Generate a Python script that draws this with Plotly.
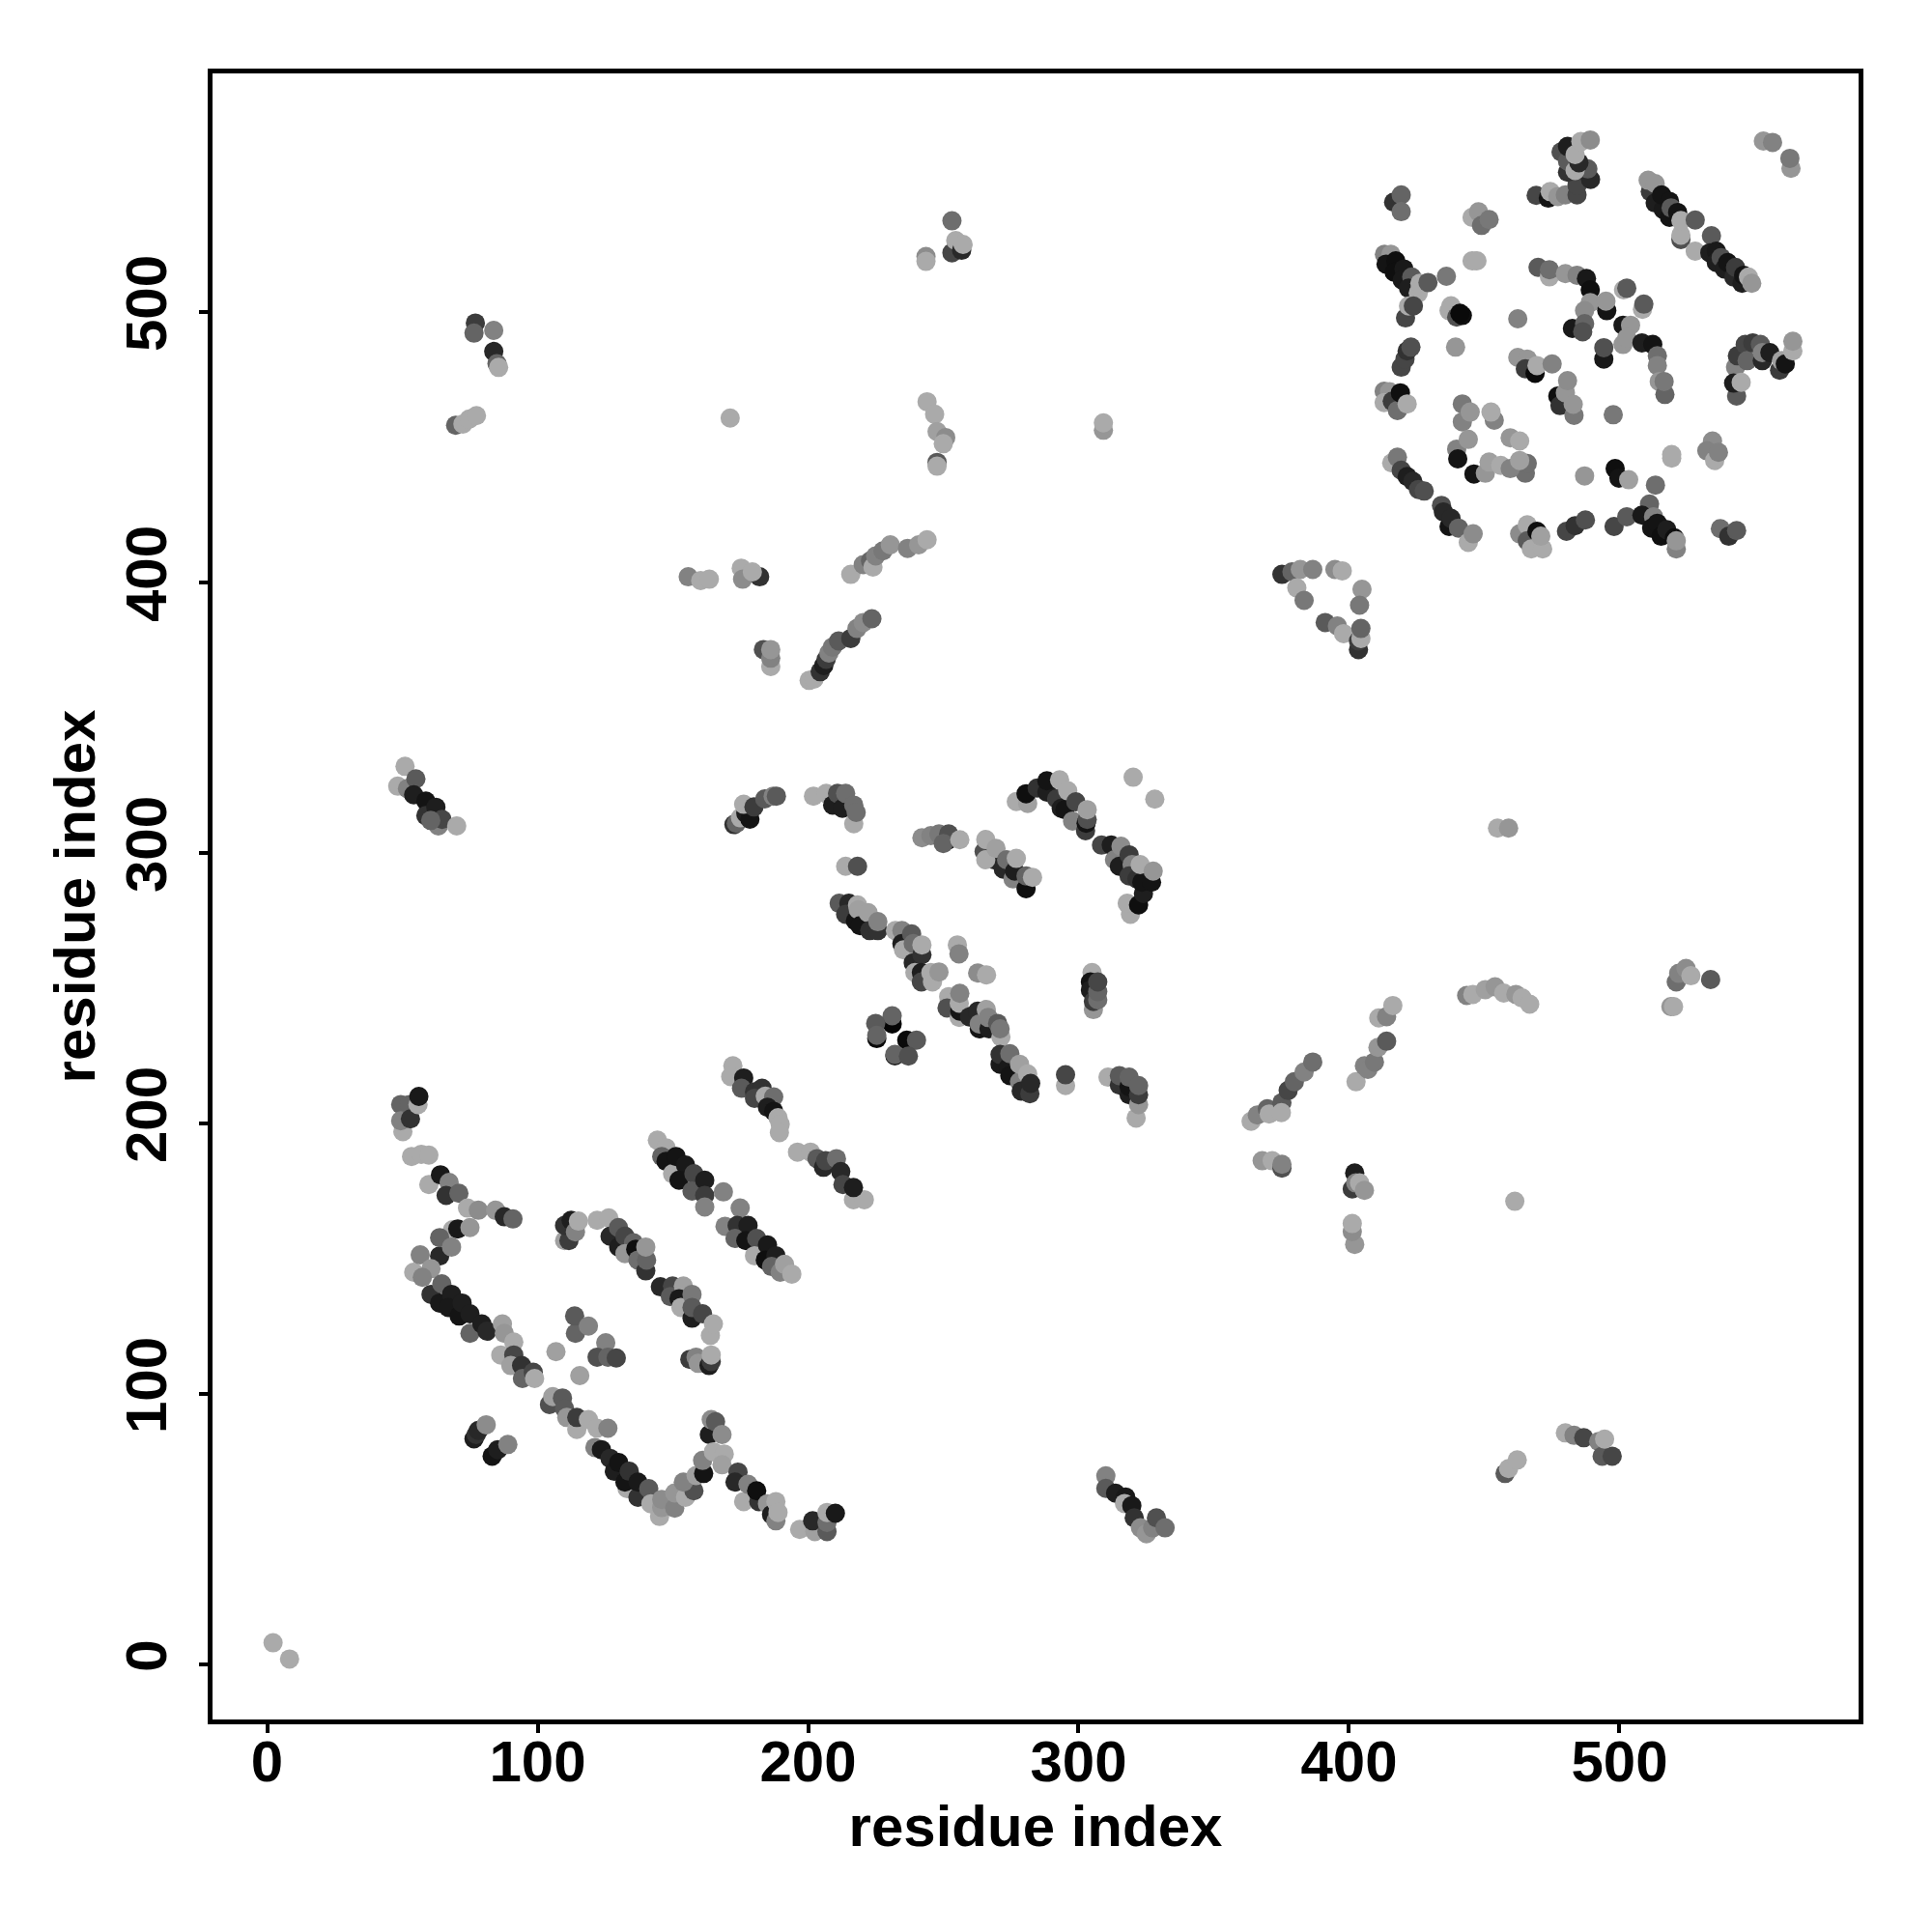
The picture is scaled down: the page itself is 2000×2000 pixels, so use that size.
import plotly.graph_objects as go

# each contact: (residue i, residue j, score), score shown on a grey ramp
termini = [(2.2,8,170),(8.3,2,170)]
helix_a = [(49.4,207,100),(52.6,207,100),(50.2,197,170),(49.4,201,130),(53,201.7,50),(55.8,207,170),(56.1,210,25)]
helix_b = [(53.4,187.8,170),(57,188.6,170),(59.8,188.3,170),(59.8,177.4,170),(64.1,181,25),(67.3,178.2,130),(66.2,173.4,50),(70.9,174.2,100),
 (74.1,168.7,170),(78.1,167.9,140),(84.5,167.9,150),(87.7,165.5,40),(90.9,164.7,100),(68.6,160.7,170),(70.5,161,25),(75,161.5,150),
 (63.8,151,40),(63.8,157.8,100),(68.2,154.3,130),(54.2,145,170),(56.6,151.4,130),(60.6,146.3,150),(57.4,143.1,130),(60.6,136.8,50),(64.6,140.7,100),
 (63.8,133.6,25),(68.2,136.8,30),(67,132,25),(71,128.8,20),(72.1,133.6,30),(75,122.4,100),(75,129.6,30),(79.4,125.9,30),(81.3,123.2,40),
 (87,125.9,160),(87.7,122.4,150),(91.2,119.2,170),(86.4,114.4,170),(91.2,114.4,70),(90.1,110.5,160),(94.1,110.5,50),(94.4,105.7,100),(98.4,108,70),(98.9,105.7,170)]
bar_a = [(172.2,221.3,170),(171.4,217.3,170),(176.2,216.8,30),(175.4,213,90),(180.2,211.7,50),(183,213,50),(180.2,209.3,70),(184.2,210.1,170),
 (187.3,209.8,110),(185,206,30),(187.3,204.5,20),(188.9,202.1,170),(189.7,199.7,170),(189.4,196.6,170)]
bar_b = [(196.1,189.4,170),(200.9,189.4,170),(203.3,187,90),(205.7,183.8,40),(206.5,186.2,70),(210.5,187,110),(212.1,182.2,40),(212.9,177.4,70),
 (216.8,171.8,170),(220.8,171.8,170),(216.8,176.3,30)]
bar_c = [(144.3,193.8,170),(147.5,191,170),(145.9,187.8,100),(147.5,186,20),(149.9,181.4,170),(151.2,187.8,20),(154.7,184.6,25),(152.3,179,20),
 (157.8,181.4,70),(157.1,175,90),(161.8,179,30),(161.8,173.4,60),(161.8,169.1,130),(168.7,174.7,130),(174.9,168.7,130)]
bar_d = [(169.3,162,130),(173.8,162.3,50),(177.8,162.3,30),(173,157.5,100),(177,156.7,20),(181,157.5,80),(180.2,151.1,170),(185,155.1,25),
 (184.2,149.5,15),(188.1,151.1,30),(186.5,147.1,100),(189.7,145,130),(191.3,147.9,160),(194,144.3,170)]
knot_a = [(110,156.7,160),(111.6,156.7,60),(110,162.3,50),(112.4,164.2,30),(114,159.9,130),(115.1,163.9,170)]
bar_e = [(122,164.2,170),(126.3,165.1,170),(126.8,158.3,40),(129.9,161.5,90),(130,154.3,30),(132.3,158.3,70),(135.5,155.9,100),(132.3,151.9,150),
 (136.3,153.5,15),(137.1,149.5,110),(140,145.5,50),(140.3,149.5,100),(140,154.3,150)]
bar_f = [(145.4,139.6,40),(149.9,139.9,70),(149.1,136,90),(153.9,139.9,160),(152.3,135.2,25),(153,132,170),(157.1,136.8,120),(157.1,128,30),
 (157.1,132,90),(161,129.6,70),(163.9,121.6,170),(165,125.9,170)]
knot_b = [(156.3,112.8,60),(158.6,113.6,130),(159.4,111.3,150),(163.4,110.5,30),(164.2,112,60),(164.2,114.4,170)]
knot_c = [(114,122.4,100),(113.7,128.8,90),(118.8,125.1,130),(125.2,118.9,130),(106.8,115.6,160),(122,113.6,80),(126,113.6,100),(129.1,113.3,70),(115.6,106.8,160)]
curve_a = [(104.4,96.1,80),(105.6,99,160),(109.2,98.5,90),(110,94.5,90),(110.8,91.3,150),(114.5,86.9,170),(114.5,91.3,60),(118.8,90.5,170),(122,87.3,170),(126,87.3,130),
 (121.2,80.2,130),(123.6,79.4,25),(126.8,76.2,40),(128.4,71.4,30),(130,74.6,20),(133.1,65,170),(132.3,67.4,20),(133.9,71.4,50),(137.1,61.8,50),(137.1,67.4,25),
 (141.1,65,90),(141.9,59.4,170),(145.1,54.7,170),(145.9,58,150),(145.9,61,140),(150.7,57.8,130),(150.7,63.4,150),(154.7,61.8,170),(157.8,64.2,80),(153.9,67.4,130),
 (158.6,69.8,160),(161.4,70.6,20),(161,75.4,130),(163.5,85,30),(164.2,90.5,140),(165.8,89.7,90),(168.2,85,140),(165,78.6,170),(169,77.8,170),(168.2,73.8,160)]
curve_b = [(174.1,71.1,70),(173,67.4,40),(176.2,60.2,170),(177.8,66.6,130),(181.8,60.2,50),(181,64.2,15),(185,59.4,150),(186.5,55.4,30),(188.1,53.1,130),(188.1,60.2,170),(188.9,56.2,170)]
curve_c = [(196.9,49.9,170),(202.5,49.1,160),(201.7,53.1,40),(207,49.1,90),(207,52.5,110),(207,56.2,170),(210.1,55.9,25)]
pair_a = [(76.5,83.4,30),(77.3,85,50),(78.1,86.5,40),(81,88.6,140),(83.2,77,20),(85.3,79.4,30),(89,81.3,130)]
arc_left = [(48.3,324.7,170),(51,332,170),(51.9,323.8,130),(55,327.4,90),(54.2,321.5,30),(58.7,319.2,20),(58.7,313.8,50),(62.4,316.9,30),(63.3,310,130),(64.7,312.4,70),(60.5,312,100),(70.1,310,170)]
upper_left = [(69.7,458.1,100),(72.4,458.6,170),(74.7,460.4,170),(77.4,461.7,170),(77,495.9,60),(76.5,492.2,100),(83.8,493.2,130),(83.8,485.4,40),(85,480.9,100),(85.6,479.5,170)]
upper_mid = [(171.2,460.8,170),(244,466.8,170),(246.8,462.2,170),(247.7,455.8,160),(247.7,444.4,90),(247.7,443,170),(250.9,453.6,140),(250,451.3,170),
 (253.2,533.7,110),(243.6,520.5,140),(243.6,518.7,170),(253.2,521.9,70),(254.6,526.4,170),(256.8,522.8,40),(257.3,525,170),(309.2,456.3,150),(309.2,459,170)]
band_400 = [(155.7,402.1,130),(160.3,400.7,170),(163.5,401.2,170),(175.3,405.3,170),(175.8,401.2,140),(182.1,402.1,50),(179.4,403.9,170),
 (183.5,375.2,80),(186.2,368.9,170),(186.2,372,130),(186.2,375.2,150)]
strand_a = [(215.8,403,170),(220.4,406.6,130),(223.1,408,100),(224,405.7,170),(225,409.8,130),(227.7,411.7,120),(230.4,413.9,150),(236.8,412.6,130),(240.9,413.9,150),(244,415.8,170)]
strand_b = [(200.4,363.8,170),(202.2,364.3,170),(204.5,367,50),(205.8,369.3,30),(206.7,371.6,60),(207.7,373.9,130),(209,376.1,120),(211.3,378.4,90),(215.8,379.3,60),(218.1,383,130),(220.4,385.2,140),(223.6,386.6,100)]
group_380 = [(375.2,403,50),(378.9,403.9,100),(382,404.8,150),(386.6,404.8,130),(380.7,398,170),(383.4,393.4,120),(391.2,385.2,90),(395.7,383.9,130),(398,381.1,170),
 (394.8,404.8,140),(397.5,404.3,170),(404.8,397.5,150),(403.9,391.6,120),(403.5,375.2,50),(403.5,378.4,60),(404.4,379.3,170),(404.4,383,100)]
group_315 = [(172.6,310.5,50),(173.5,311,100),(175,313,170),(177,314.7,30),(178.5,312.5,20),(176.2,318,170),(180,317,60),(184,320,90),(187.1,321,130),(188.3,321,90)]
mid_a = [(202,321,170),(206.7,322,170),(209.1,317.7,30),(210.9,322,80),(212.7,316.5,30),(216.9,310.8,170),(213.9,322,110),(216.9,317.7,110),(217.8,315,110),
 (242.1,305.6,140),(245.4,306.4,130),(248.4,307,120),(251.4,304.6,30),(252,307,80),(250,303.5,100),(256.1,304.9,170),
 (213.9,295.1,170),(218.3,295.1,80)]
mid_b = [(265.1,300.5,80),(265.7,305,170),(268.7,297.5,40),(265.7,297.5,170),(269.5,301.7,160),(272.2,294,40),(273.4,297.5,110),(275.8,290.4,130),(276.4,293.3,30),(277,298,170),
 (280.6,286.8,15),(280.6,291.5,100),(283,291,170)]
mid_c = [(277,319,170),(281.2,318.3,160),(280.6,321.9,15),(284.7,324,50),(288.3,322.5,30),(288.3,326.7,20),(293,327,170),(291.9,320,60),(293.6,316.5,30),(295,316,20),(296,323,170),
 (297.8,311.8,130),(299,318.9,70),(302.6,308.2,60),(302.8,311,20),(303.2,312.4,80),(303.2,316,160),(320.2,328,170),(328.2,319.9,170)]
mid_d = [(308.5,302.9,70),(312.1,302.9,30),(313.3,297.5,130),(315.7,302.5,140),(315.1,295.1,30),(318.7,299.3,60),(319.8,295.7,130),(318.7,291.5,60),(319.2,277.3,170),(318,281.4,170),(322.2,280.8,15),
 (324,285,30),(321.6,290.4,50),(323.4,289.2,20),(327,289.2,20),(322.8,295.7,170),(327.6,293.3,150)]
mid_e = [(211.5,281.4,90),(215.1,281.4,40),(213.9,277.3,60),(217.5,274.9,20),(218.3,280.8,170),(218.6,279,160),(219.2,273.1,20),(222.2,277.9,160),(222.8,271.3,50),(225.8,271.3,50),(225.8,274.6,130),
 (232.3,271.3,170),(234.7,271.3,130),(234.7,266.5,30),(235.3,264.2,170),(238.3,270.1,90),(238.9,259.4,40),(238.9,266.5,110),(242.1,262.4,50),(242.1,266,170),
 (239.5,255.8,170),(241.9,255.8,30),(241.9,252.3,70),(245.4,255.8,170),(246,252.3,170),(248.4,256,150),(255.2,266,170),(255.8,262.7,130),(262.7,255.6,140),(266,254.9,170)]
mid_f = [(252,246.9,170),(251.4,242.7,80),(255.9,239.2,170),(256.1,241.5,20),(255.9,244.5,170),(256.1,248.1,130),(259.7,239.4,40),(262.7,241.5,40),(263.3,235,20),(263.3,236.8,130),(265.9,242.1,160),
 (266.9,235,30),(266.6,239.2,130),(271.3,232,170),(270.1,237,90),(271,235,120)]
mid_g = [(271,221.9,25),(271,225.5,50),(274,220.7,25),(274.6,217.7,20),(274.6,225.8,110),(278.2,215.4,130),(278.2,221.9,160),(278.8,212,40),(281.2,218.3,170),(282,211,60),(282.3,214.8,40),
 (295.2,214,170),(295.2,218,70)]
mid_h = [(310.9,217.1,170),(315.1,214.2,50),(315.1,217.7,90),(318.7,210.6,30),(318.7,213.6,20),(318.7,217.1,100),(321.3,202,170),(322.2,207,150),(322.2,210.6,60),(322.2,214,100)]
square = [(231.1,236.8,5),(231.1,239.8,100),(225,237,90),(225.4,231.4,10),(225.4,232.6,100),(236.5,230.8,10),(240.1,230.8,90),(232.1,225,20),(232.1,225.5,100),(237.1,224.9,80)]
vertical_305 = [(305,255.8,170),(304.4,252.3,20),(304.4,249.3,30),(305.5,242.1,150),(305.5,245.1,60),(307.1,245.7,110),(307.1,248.7,100),(307.1,252.3,70)]
strand_c = [(363.8,200.8,170),(366.1,203.1,130),(369.8,205.4,100),(370.5,203.5,170),(375.2,207.7,90),(375,204,170),(377.5,212.2,70),(379.8,215.4,100),(383.4,219,130),(386.6,222.7,110)]
strand_d = [(402.6,215.4,170),(405.7,221.3,130),(407,220,130),(409.4,222.7,120),(410.7,228.1,150),(413.9,230.4,90),(411,239,170),(413.9,239.5,130),(416.2,243.6,170)]
strand_e = [(443.5,247.3,130),(445.8,247.7,170),(450.4,249.5,160),(454,250.5,150),(457.2,248.2,170),(461.7,247.7,150),(464,246.4,170),(466.8,244.1,170),(454.9,309.2,170),(459,309.2,150),(461.3,171.2,170)]
small_a = [(367.9,186.2,150),(371.6,186.2,170),(375.2,183.5,80),(375.2,184.9,130),(402.1,181.7,30),(401.2,175.8,60),(402.5,178,130),(403.9,178,170),(405.7,175.3,150),(402.1,155.3,150),(401.2,160,140),(401.2,163,170)]
bottom_a = [(310.1,69.7,130),(310.1,65.1,90),(313.7,63.3,30),(317.4,61.9,25),(317,59.5,170),(319.7,58.7,25),(320.6,54.2,50),(322.9,50.5,140),(325.1,48.3,150),(327.4,50.5,130),(328.8,54.2,80),(332,50.5,110)]
bottom_b = [(457.7,70.6,90),(459,72.4,170),(462.2,75.6,170),(480,85.6,170),(483.2,84.7,130),(486.8,83.8,70),(492.3,82.4,130),(493.6,77,90),(497.3,77,70),(494.5,83.3,170)]
right_a = [(533.7,253.2,90),(519,243.2,150),(520,243.2,170),(521,252.3,110),(521.9,255.5,130),(524.6,257.3,140),(526.4,254.6,170)]
ring_top = [(469.2,543.1,70),(473.7,542.1,20),(474.4,544.5,170),(477.2,542.7,150),(480,543.3,130),(484.3,543.3,70),(484.3,546.9,70),(478.4,559.2,80),(480.8,551.7,50),(480.8,555.8,90),(480.8,561.2,30),
 (489.3,549,40),(488.3,552.9,90),(483.6,552.3,170),(485,555.2,40),(483.6,558.2,170),(485.7,563,170),(489.2,563.6,140),(553.2,563.2,150),(556.6,562.7,130),(563.4,553.1,150),(563,556.8,120)]
ring_diag = [(511.4,544.5,60),(510.6,548.7,150),(513.2,547.5,150),(513.2,540.3,30),(516.2,537.9,25),(515.6,543.3,20),(518.5,535,20),(518.5,540.9,20),(519.1,538.5,90),(521.5,536.8,20),
 (522.7,526.8,80),(522.7,528.4,170),(522.7,533.8,170),(528,534,90),(534,528.2,90),(528,522.5,170),(533.4,521.9,30),(535.8,522.5,25),(535.8,518.3,30),(537.6,520.1,80),(538.8,515.9,30),(540,518.3,20),
 (542.3,512.9,40),(542.9,516.5,60),(545.3,510.6,30),(545.9,513.6,20),(547.7,512.9,170),(548.9,510.6,150)]
ring_right = [(542.9,479.6,130),(543.3,468.9,90),(542.2,473.7,30),(545,474,170),(543.6,483.8,60),(546.5,488,70),(547.2,482,100),(549.3,488.6,60),(552.1,488,90),(552.8,482,40),(552.8,485,130),(555.6,485,30),
 (559.2,478.5,60),(559.9,482,160),(561.3,480.8,20),(564.1,485.6,170),(564.1,489.2,150)]
ring_left = [(416.5,540.6,50),(419.3,543.3,100),(419.3,537.1,110),(445.5,535,170),(447.9,537,150),(449,532,110),(451.8,534.2,120),(445.5,518.9,170),(447.3,518.9,170),(436,513.2,120),
 (413.1,521.3,130),(415.5,521.3,150),(413.7,517.7,20),(417.3,518.9,15),(416.7,514.7,15),(420.3,515.9,25),(419.7,511.8,25),(423.2,512.9,90),(422,508.8,30),(425.6,507,170),(426.2,510.6,170),(429.2,510.9,90),
 (420.9,497.8,70),(422,502.2,170),(423.8,502.2,70),(437.7,502.3,170),(437,500.5,170),(439.8,498.1,80),(441.9,498.7,15),(441,499.5,10),(439.4,487,150),(462.4,497.5,130),
 (419.3,479.6,70),(420.7,482.6,70),(421.5,485.6,50),(422.9,487,80),(413,470.7,130),(415,470.5,150),(413,466.5,170),(416,467,60),(417.9,463.6,110),(419,470.1,15),(421.5,466,170)]
ring_inner = [(469.9,516.5,90),(474.1,513,170),(474.1,515.6,110),(480,514.2,150),(484.3,513.6,130),(487.8,512.4,25),(489.2,508.2,15),(501.5,508.2,170),(502.7,508.8,90),(508.5,501,170),(509,502.9,90),
 (489.2,503.5,150),(487.1,500.5,140),(495.3,500.5,20),(495,504,150),(482.6,493.9,25),(487.1,495.7,100),(486.4,492.7,80),(501.3,495.1,25),(504.1,495.1,150),(494.2,482.6,25),(494.2,486.8,80),
 (501.3,488,150),(502.7,490.4,150),(508.3,488.6,30),(512.3,488,20),(514,483.8,110),(514,480.2,130),(514.7,474.3,150),(516.8,469.5,100),(516.5,474.3,120)]
ring_core = [(462.4,483.2,150),(465.9,482.6,150),(465.2,479,60),(468.8,477.3,10),(469.5,480.2,170),(475.1,480.8,130),(477.2,468.9,15),(478,465.4,50),(480,470.1,150),(480.8,474.6,140),(483.2,461.8,120),(482.9,465.9,150),(497.7,462,120),
 (441.9,459.4,130),(441.9,466,120),(444.8,463,150),(453.7,460,130),(452.5,463,170),(439.8,449.3,130),(440.2,445.7,20),(444.1,452.9,150),(459.6,453.5,150),(463.1,452.3,170),
 (446.2,440.1,20),(450.4,440.4,150),(451.8,444.5,160),(456.1,443.3,170),(465.2,440.4,110),(465.9,444,110),(459.6,442.1,130),(463.1,445.1,160)]
ring_arc = [(415.8,444.2,170),(417.9,446.3,120),(419.3,441.5,70),(421.5,439.2,30),(423.6,437.4,40),(425.7,434.4,70),(427.8,433.8,80),(434.2,428.5,80),(434.9,426.1,40),(437,420.7,20),(437.7,423.7,40),(440.5,420.1,100),(444.1,414.8,170),(445.9,418,140),
 (487.1,439.4,150),(498.4,442.1,15),(499.8,438.6,20),(503.4,438,160),(513.3,436,110),(519.3,446,170),(519.3,447.3,170),(534.4,452.3,140),(532.3,448.7,130),(535.2,445.1,170),(536.6,448.1,130)]
ring_bottom = [(463.1,418,140),(465.9,421.3,170),(465.9,415.4,90),(467.4,412.4,170),(471.6,412.4,170),(469.5,418.9,15),(470.9,417.1,160),(480.4,418.9,70),(483.6,421,50),(487.4,423.1,80),
 (498,420.7,70),(502.7,424.3,90),(511.1,429,100),(508.3,424.9,25),(512.6,424.3,130),(511.9,420.1,20),(514,421.9,20),(515.4,417.1,15),(517.5,419.5,30),(520.3,416.5,15),(521,412.4,130),(521,415.4,150),
 (537.3,419.9,110),(540.4,417.1,50),(543.3,419.2,90)]

clusters = [termini,helix_a,helix_b,bar_a,bar_b,bar_c,bar_d,knot_a,bar_e,bar_f,knot_b,knot_c,curve_a,curve_b,curve_c,pair_a,arc_left,upper_left,upper_mid,
            band_400,strand_a,strand_b,group_380,group_315,mid_a,mid_b,mid_c,mid_d,mid_e,mid_f,mid_g,mid_h,square,vertical_305,strand_c,strand_d,strand_e,small_a,
            bottom_a,bottom_b,right_a,ring_top,ring_diag,ring_right,ring_left,ring_inner,ring_core,ring_arc,ring_bottom]
contacts = [p for c in clusters for p in c]
res_i = [p[0] for p in contacts]
res_j = [p[1] for p in contacts]
score = [p[2] for p in contacts]

tick_vals = [0, 100, 200, 300, 400, 500]
tick_text = ["0", "100", "200", "300", "400", "500"]
axis_label = "residue index"

FONT = "Liberation Sans"
fig = go.Figure(go.Scatter(
    x=res_i, y=res_j, mode="markers",
    marker=dict(size=20, color=score, cmin=0, cmax=180,
                colorscale=[[0, "rgb(0,0,0)"], [1, "rgb(180,180,180)"]],
                showscale=False, line=dict(width=0), opacity=1),
    hoverinfo="skip",
))
axis = dict(showgrid=False, zeroline=False, showline=True, mirror=True, linecolor="black", linewidth=5,
            ticks="outside", ticklen=9, tickwidth=3.5, tickcolor="black",
            tickvals=tick_vals, ticktext=tick_text,
            tickfont=dict(family=FONT, size=60, color="black", weight=700))
fig.update_layout(
    width=2000, height=2000, autosize=False,
    paper_bgcolor="white", plot_bgcolor="white", showlegend=False,
    margin=dict(l=212, r=84, t=68, b=228, pad=0),
    xaxis=dict(axis, range=[-20.18, 588.4], ticklabelstandoff=-22,
               title=dict(text=axis_label, standoff=4, font=dict(family=FONT, size=60, color="black", weight=700))),
    yaxis=dict(axis, range=[-20.36, 588.2], tickangle=-90, ticklabelstandoff=10,
               title=dict(text=axis_label, standoff=2, font=dict(family=FONT, size=60, color="black", weight=700))),
)
fig.write_html("out.html")
